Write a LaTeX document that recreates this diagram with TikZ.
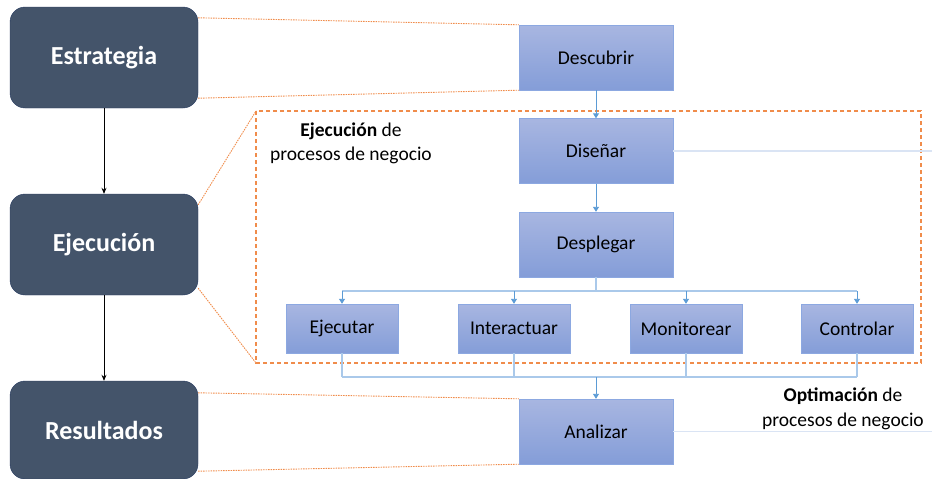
\documentclass[tikz,border=0pt]{standalone}
\usepackage{fontspec}
\setmainfont{Carlito}
\usepackage{xcolor}
\usepackage{tikz}
\usetikzlibrary{arrows.meta,positioning}

\definecolor{slate}{RGB}{68,84,106}
\definecolor{slateline}{RGB}{38,58,96}
\definecolor{boxtop}{RGB}{168,182,225}
\definecolor{boxbot}{RGB}{132,157,216}
\definecolor{boxline}{RGB}{140,168,225}
\definecolor{flowblue}{RGB}{91,155,213}
\definecolor{flowlight}{RGB}{170,201,234}
\definecolor{paleblue}{RGB}{218,228,244}
\definecolor{dashorange}{RGB}{240,140,75}

\begin{document}
\begin{tikzpicture}[x=1pt, y=-1pt,
  stage/.style={draw=slateline, fill=slate, rounded corners=15pt, minimum width=188pt, minimum height=101pt,
    text=white, font=\fontsize{26}{30}\selectfont\bfseries},
  task/.style={draw=boxline, top color=boxtop, bottom color=boxbot, minimum width=154pt, minimum height=65pt,
    font=\fontsize{19.5}{22}\selectfont},
  subtask/.style={task, minimum width=112pt, minimum height=49pt},
  caption/.style={align=center, font=\fontsize{19.5}{24.5}\selectfont},
  flow/.style={draw=flowlight, line width=1.3pt},
  flowarrow/.style={draw=flowblue, line width=0.9pt, -{Triangle[length=5pt, width=6pt]}},
  zoomline/.style={draw=dashorange, dash pattern=on 1.5pt off 1pt, line width=0.9pt},
  outline/.style={draw=paleblue, line width=1.6pt}]
\useasboundingbox (0,0) rectangle (932,479);

% stages
\node[stage] (estr) at (104,57.5) {Estrategia};
\node[stage] (ejec) at (104,244.5) {Ejecución};
\node[stage, minimum height=98pt] (resu) at (104,430) {Resultados};
\draw[-{Stealth[length=6pt, width=5pt]}, line width=0.8pt] (estr) -- (ejec);
\draw[-{Stealth[length=6pt, width=5pt]}, line width=0.8pt] (ejec) -- (resu);

% dashed frame
\coordinate (frame nw) at (256,111);
\coordinate (frame se) at (921,363);
\draw[draw=dashorange, dash pattern=on 4pt off 3pt, line width=1.2pt] (frame nw) rectangle (frame se);

% tasks
\node[task] (desc) at (596,57.5) {Descubrir};
\node[task] (dise) at (596,151) {Diseñar};
\node[task] (desp) at (596,244.5) {Desplegar};
\node[task] (anal) at (596,431.5) {Analizar};
\node[subtask] (ejcu) at (342,328.5) {Ejecutar};
\node[subtask] (inte) at (514,328.5) {Interactuar};
\node[subtask] (moni) at (686,328.5) {Monitorear};
\node[subtask] (cont) at (857,328.5) {Controlar};

\node[caption] (lblejec) at (351,143.5) {\textbf{Ejecución} de\\procesos de negocio};
\node[caption] (lblopt) at (843,409) {\textbf{Optimación} de\\procesos de negocio};

% zoom lines
\draw[zoomline] ([yshift=-11pt]estr.north east) -- (desc.north west);
\draw[zoomline] ([yshift=10pt]estr.south east) -- (desc.south west);
\draw[zoomline] ([yshift=-11pt]ejec.north east) -- (frame nw);
\draw[zoomline] ([yshift=7pt]ejec.south east) -- (frame nw |- frame se);
\draw[zoomline] ([yshift=-12pt]resu.north east) -- (anal.north west);
\draw[zoomline] ([yshift=8pt]resu.south east) -- (anal.south west);

% flow
\draw[flowarrow] (desc) -- (dise);
\draw[flowarrow] (dise) -- (desp);
\coordinate (split) at (596,291);
\coordinate (join) at (596,377);
\draw[flow] (desp) -- (split);
\draw[flow] (ejcu |- split) -- (cont |- split);
\foreach \t in {ejcu,inte,moni,cont} {
\draw[flowarrow] (\t |- split) -- (\t);
\draw[flow] (\t) -- (\t |- join); }
\draw[flow] (ejcu |- join) -- (cont |- join);
\draw[flowarrow] (join) -- (anal);

% outlines to the right
\coordinate (dise out) at (932,151);
\coordinate (anal out) at (932,431.5);
\draw[outline] (dise) -- (dise out);
\draw[outline] (anal) -- (anal out);
\end{tikzpicture}
\end{document}
